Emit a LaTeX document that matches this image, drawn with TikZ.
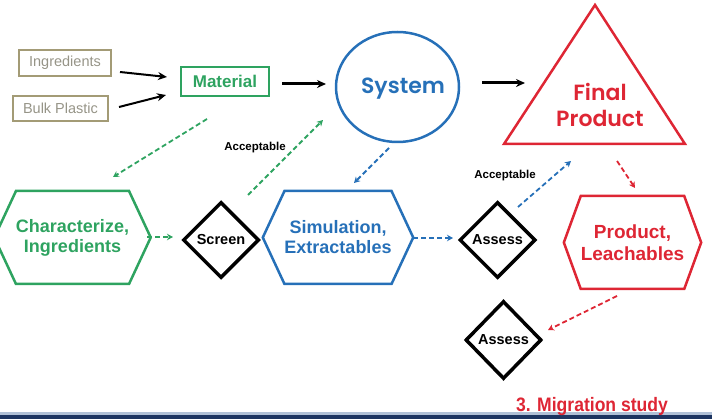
\documentclass[tikz,border=0pt]{standalone}
\usepackage{fontspec}
\setmainfont{Liberation Sans}
\newfontfamily\gothic{Poppins}[BoldFont={Poppins SemiBold}]
\usetikzlibrary{arrows.meta,shapes.geometric,shapes.symbols,positioning}
\definecolor{matgreen}{RGB}{46,163,96}
\definecolor{sysblue}{RGB}{38,112,184}
\definecolor{prodred}{RGB}{222,38,52}
\definecolor{khaki}{RGB}{163,155,118}
\definecolor{khakitext}{RGB}{150,148,135}
\definecolor{navy}{RGB}{28,52,96}
\definecolor{bandblue}{RGB}{176,192,214}
\tikzset{
    rawbox/.style={draw=khaki, line width=2.5pt, text=khakitext, inner sep=0,
        font=\fontsize{14.5}{16}\selectfont},
    matbox/.style={draw=matgreen, line width=2.5pt, text=matgreen, inner sep=0,
        minimum width=88pt, minimum height=29pt, font=\bfseries\fontsize{17}{19}\selectfont},
    hexnode/.style={signal, signal to=west and east, signal pointer angle=130,
        line width=2.5pt, align=center, inner sep=0, minimum width=133pt, minimum height=93pt,
        font=\bfseries\fontsize{18}{20}\selectfont},
    decision/.style={diamond, draw=black, line width=3.5pt, aspect=1, inner sep=0,
        minimum width=76pt, minimum height=76pt, font=\bfseries\fontsize{14.5}{16}\selectfont},
    flow/.style={-{Stealth[length=9pt,width=8pt]}, line width=2pt},
    dflow/.style={-{Stealth[length=6pt,width=6.5pt]}, line width=1.8pt, dash pattern=on 5pt off 3pt},
    oknote/.style={font=\bfseries\fontsize{11.5}{13}\selectfont},
}

\begin{document}
\begin{tikzpicture}[x=1pt, y=-1pt]
\useasboundingbox (0,0) rectangle (712,419);

		% raw materials
		\node[rawbox, minimum width=92pt, minimum height=26pt] (ingr) at (65,63) {Ingredients};
		\node[rawbox, minimum width=95pt, minimum height=25pt] (bulk) at (60.5,108.5) {Bulk Plastic};
		\node[matbox] (mat) at (225,81.5) {Material};

		\node[ellipse, draw=sysblue, line width=2.5pt, text=sysblue, inner sep=0,
			minimum width=123pt, minimum height=110pt] (sys) at (397.5,87) {};
		\node[text=sysblue, font=\gothic\bfseries\fontsize{22}{24}\selectfont] (systxt) at (403,89) {System};

		% final product triangle
		\coordinate (apex) at (595,5);
		\coordinate (leftfoot) at (504,144);
		\coordinate (rightfoot) at (685,144);
		\draw[prodred, line width=2.5pt, line join=miter] (apex) -- (leftfoot) -- (rightfoot) -- cycle;
		\node[text=prodred, align=center, font=\gothic\bfseries\fontsize{22}{26}\selectfont] (final) at (600,105) {Final\\Product};

		% second row
		\node[hexnode, draw=matgreen, text=matgreen] (char) at (72.5,237.5) {Characterize,\\Ingredients};
		\node[decision] (screen) at (221,240) {Screen};
		\node[hexnode, draw=sysblue, text=sysblue] (sim) at (338,237.5) {Simulation,\\Extractables};
		\node[decision] (assess) at (497.5,240) {Assess};
		\node[hexnode, draw=prodred, text=prodred, signal pointer angle=140, minimum width=135pt,
			font=\bfseries\fontsize{19}{22}\selectfont] (prod) at (632.5,242.5) {Product,\\Leachables};
		\node[decision, minimum height=78pt] (assesstwo) at (503.5,340) {Assess};

		% solid arrows
		\draw[flow] ([shift={(55,9)}]ingr.center) -- ([shift={(-58,-4.5)}]mat.center);
		\draw[flow] ([shift={(58.5,-1.5)}]bulk.center) -- ([shift={(-59,13.5)}]mat.center);
		\draw[flow, line width=3pt] ([shift={(57,2.5)}]mat.center) -- ([shift={(-71.5,-3)}]sys.center);
		\draw[flow, line width=3pt] ([shift={(84.5,-4)}]sys.center) -- ([shift={(-75,-22)}]final.center);

		% dashed arrows
		\draw[dflow, matgreen] ([shift={(-18,37.5)}]mat.center) -- ([shift={(40.5,-60.5)}]char.center);
		\draw[dflow, matgreen] ([shift={(27,-45)}]screen.center) -- ([shift={(-74.5,33)}]sys.center);
		\draw[dflow, matgreen] ([shift={(74.5,-0.5)}]char.center) -- ([shift={(-48,-3)}]screen.center);
		\draw[dflow, sysblue] ([shift={(-8.5,61)}]sys.center) -- ([shift={(16,-54.5)}]sim.center);
		\draw[dflow, sysblue] ([shift={(75,0.5)}]sim.center) -- ([shift={(-44.5,-2)}]assess.center);
		\draw[dflow, sysblue] ([shift={(20.5,-33)}]assess.center) -- ([shift={(-29,56)}]final.center);
		\draw[dflow, prodred] ([shift={(17,56)}]final.center) -- ([shift={(2.5,-54.5)}]prod.center);
		\draw[dflow, prodred] ([shift={(-15.5,53.5)}]prod.center) -- ([shift={(44.5,-10)}]assesstwo.center);

		\node[oknote] (okone) at (255,148) {Acceptable};
		\node[oknote] (oktwo) at (505,176) {Acceptable};

		% footer band and caption
		\fill[bandblue] (0,412) rectangle (712,415);
		\fill[navy] (0,415) rectangle (712,419);
		\node[text=prodred, font=\bfseries\fontsize{19.5}{21}\selectfont] (caption) at (592,407)
			{\scalebox{0.9}[1]{3. Migration study}};
\end{tikzpicture}
\end{document}
